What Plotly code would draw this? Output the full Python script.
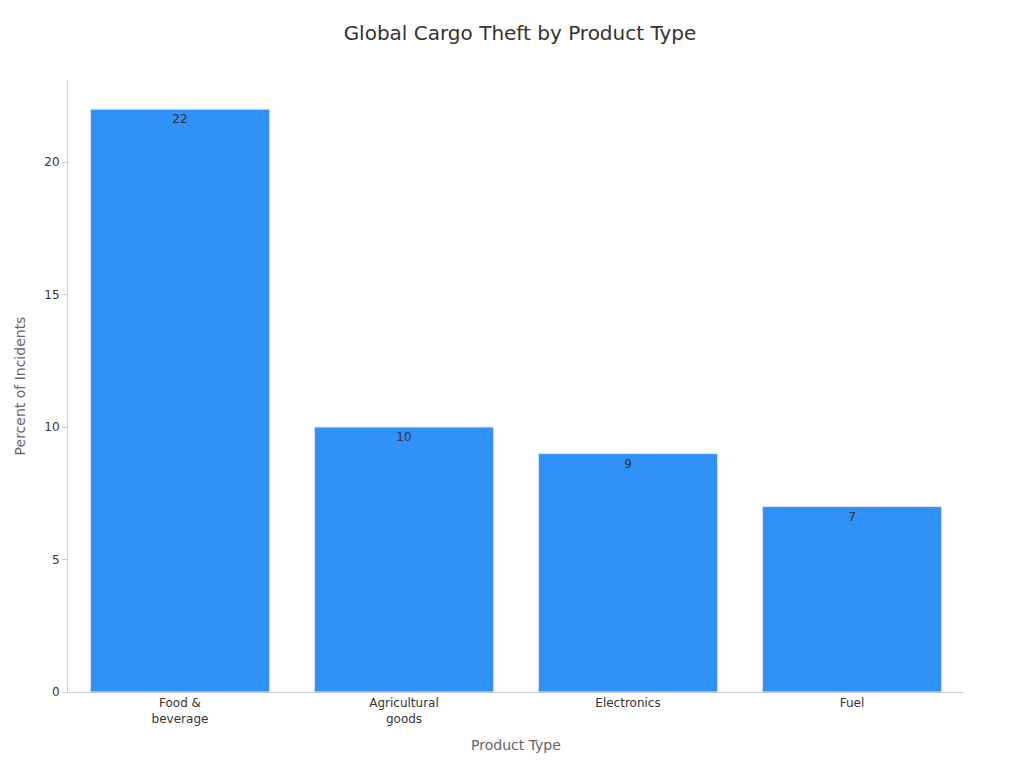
import plotly.graph_objects as go

categories = ["Food &<br>beverage", "Agricultural<br>goods", "Electronics", "Fuel"]
values = [22, 10, 9, 7]

fig = go.Figure(go.Bar(
    x=categories, y=values, text=values, textposition="inside",
    insidetextanchor="end", textfont=dict(color="#333333", size=12),
    marker=dict(color="#3092F9", line=dict(color="#d8e6f5", width=1)),
    width=0.8,
))
fig.update_layout(
    width=1024, height=768,
    margin=dict(l=52, r=68, t=72, b=84),
    paper_bgcolor="white", plot_bgcolor="white",
    font=dict(family="DejaVu Sans", size=12, color="#333333"),
    title=dict(text="Global Cargo Theft by Product Type", x=0.5, y=0.967,
               xanchor="center", yanchor="middle", font=dict(size=20, color="#333333")),
    showlegend=False,
)
fig.update_xaxes(title=dict(text="Product Type", font=dict(size=14, color="#666666")),
                 showline=True, linecolor="#cccccc", ticks="", showgrid=False)
fig.update_yaxes(title=dict(text="Percent of Incidents", font=dict(size=14, color="#666666")),
                 range=[0, 23.1], tickvals=[0, 5, 10, 15, 20], showline=True,
                 linecolor="#cccccc", ticks="outside", tickcolor="#cccccc",
                 showgrid=False, zeroline=False)
fig.write_html("out.html")
